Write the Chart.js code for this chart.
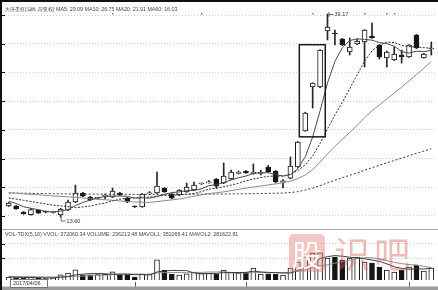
<!DOCTYPE html>
<html>
<head>
<meta charset="utf-8">
<script src="https://cdn.jsdelivr.net/npm/chart.js@4.4.1/dist/chart.umd.min.js"></script>
<style>
  html, body { margin: 0; padding: 0; background: #fff; }
  #wrap { position: relative; width: 438px; height: 290px; overflow: hidden; background: #fff;
          font-family: "Liberation Sans", Arial, sans-serif; }
  #price { position: absolute; left: 0; top: 0; }
  #vol { position: absolute; left: 0; top: 228px; }
  .hdr { position: absolute; white-space: pre; color: #454545; font-size: 5.4px; line-height: 7px; letter-spacing: -0.05px; }
  .wm { position: absolute; pointer-events: none; font-family: "Noto Sans CJK SC", sans-serif; line-height: 1; }
  #wm1 { left: 289px; top: 234px; width: 36px; height: 38px; border-radius: 5px;
         background: rgba(226, 128, 118, 0.45); color: #fff; font-size: 30px; text-align: center; line-height: 38px; }
  #wm2 { left: 334px; top: 234px; font-size: 36px; color: rgba(214, 96, 86, 0.42); }
  #wm3 { left: 374px; top: 234px; font-size: 36px; color: rgba(214, 96, 86, 0.42); }
</style>
</head>
<body>
<div id="wrap">
  <canvas id="price" width="438" height="228"></canvas>
  <canvas id="vol" width="438" height="62"></canvas>
  <div class="hdr" style="left:5px;top:6px;">大连圣亚(日线,前复权) MA5: 29.09 MA10: 26.75 MA20: 21.91 MA60: 16.03</div>
  <div class="hdr" style="left:5px;top:231px;">VOL-TDX(5,10) VVOL: 372060.34 VOLUME: 236213.48 MAVOL1: 351066.41 MAVOL2: 281622.81</div>
  <div class="wm" id="wm1">股</div>
  <div class="wm" id="wm2">识</div>
  <div class="wm" id="wm3">吧</div>
</div>
<script>
// Daily candles (前复权)
const opens = [14.99,14.99,14.23,13.90,14.48,14.27,14.18,13.85,14.48,15.49,
  16.62,16.12,15.95,16.20,16.12,16.62,15.99,14.92,14.86,16.52,
  16.62,17.25,16.50,16.37,16.75,17.00,17.76,17.90,18.39,17.88,
  18.39,19.10,19.39,19.10,19.10,19.90,19.39,18.00,18.50,19.90,
  24.43,29.97,29.97,37.03,36.77,36.02,34.38,35.39,35.64,36.40,
  35.26,33.63,33.37,34.00,33.75,36.52,33.63,34.76];
const highs = [15.45,15.06,14.30,14.68,14.56,14.36,14.34,14.70,15.74,17.63,
  16.72,16.20,16.10,16.50,17.25,16.70,16.05,15.00,16.55,16.80,
  19.27,17.30,16.55,17.05,17.88,18.01,17.90,18.20,18.45,20.40,
  19.50,19.40,19.45,20.28,19.50,20.10,19.45,18.30,21.16,23.10,
  26.80,30.50,34.70,39.17,37.15,36.10,36.14,36.02,37.20,38.03,
  35.30,34.50,35.01,34.63,35.30,36.60,34.20,35.64];
const lows = [14.92,14.55,13.94,13.82,14.05,14.12,14.10,13.60,14.40,15.40,
  16.15,15.65,15.85,15.87,16.05,16.30,15.40,14.80,14.80,16.45,
  16.55,16.70,15.90,16.30,16.70,16.95,17.70,17.85,17.25,17.80,
  18.30,19.00,19.10,19.00,18.90,19.20,17.90,17.25,18.40,19.85,
  24.40,27.33,29.90,35.89,35.26,35.20,34.00,35.30,32.49,36.10,
  33.50,32.49,33.30,32.99,33.70,34.80,33.60,34.00];
const closes = [15.36,14.61,13.98,14.55,14.10,14.20,14.25,14.61,15.49,16.62,
  16.24,15.74,15.99,16.30,16.87,16.37,15.49,14.86,16.50,16.62,
  17.50,16.75,15.99,17.00,17.38,17.63,17.80,18.01,17.50,18.76,
  19.27,19.15,19.14,19.15,19.20,19.27,18.01,18.15,20.00,23.05,
  26.70,30.48,34.63,37.53,36.65,35.26,35.01,35.77,37.15,36.14,
  33.75,34.38,34.13,33.75,35.26,34.88,34.13,34.88];

// Moving averages
const ma5 = [15.60,15.30,14.90,14.70,14.53,14.30,14.23,14.35,14.53,15.03,
  15.44,15.74,16.02,16.18,16.23,16.25,16.20,15.98,16.02,15.97,
  16.19,16.45,16.67,16.77,16.92,16.95,17.16,17.56,17.66,17.94,
  18.27,18.54,18.76,19.09,19.18,19.18,18.95,18.76,18.93,19.70,
  21.18,23.68,26.97,30.48,33.20,34.91,35.82,36.04,35.97,35.87,
  35.56,35.44,35.11,34.43,34.25,34.48,34.43,34.58];
const ma10 = [16.00,15.85,15.70,15.55,15.40,15.25,15.10,15.00,14.90,14.78,
  14.87,14.98,15.19,15.35,15.63,15.85,15.97,16.00,16.10,16.10,
  16.22,16.33,16.33,16.40,16.45,16.57,16.80,17.12,17.22,17.43,
  17.61,17.85,18.16,18.38,18.56,18.73,18.75,18.76,19.01,19.44,
  20.18,21.32,22.86,24.70,26.45,28.05,29.75,31.51,33.22,34.53,
  35.24,35.63,35.58,35.20,35.06,35.02,34.93,34.85];
const ma20 = [16.65,16.60,16.52,16.46,16.40,16.32,16.26,16.20,16.14,16.08,
  16.00,15.92,15.85,15.77,15.70,15.63,15.56,15.50,15.46,15.44,
  15.55,15.65,15.76,15.87,16.04,16.21,16.39,16.56,16.66,16.77,
  16.92,17.09,17.24,17.39,17.50,17.65,17.77,17.94,18.11,18.44,
  18.90,19.58,20.51,21.54,22.50,23.39,24.25,25.13,26.12,26.99,
  27.71,28.47,29.22,29.95,30.75,31.53,32.34,33.18];
const ma60 = [16.62,16.61,16.60,16.58,16.57,16.55,16.54,16.52,16.51,16.50,
  16.50,16.49,16.48,16.48,16.47,16.47,16.46,16.45,16.45,16.45,
  16.46,16.46,16.46,16.47,16.47,16.48,16.48,16.49,16.49,16.50,
  16.51,16.52,16.53,16.54,16.56,16.58,16.60,16.62,16.68,16.80,
  17.00,17.25,17.55,17.90,18.25,18.55,18.85,19.15,19.50,19.82,
  20.12,20.42,20.72,21.02,21.32,21.62,21.90,22.20];

// Volume and its averages
const volumes = [41600,28900,26800,43100,27500,20600,29300,70800,98400,141200,
  69700,72100,76500,78300,113600,69300,71800,41900,83600,86200,
  281500,139800,83200,70600,84900,111700,90600,92300,83800,140600,
  111900,97800,99100,168400,83700,85100,83300,70400,167900,251600,
  322800,377400,379100,307600,322300,279800,308500,321600,252400,237800,
  181700,140300,112400,139600,182500,209700,125800,168300];
const mavol1 = [42000,37800,35000,35000,33600,29400,29400,37800,49000,71400,
  81200,89600,91000,86800,81200,81200,81200,74200,75600,70000,
  112000,126000,134400,131600,131600,98000,88200,89600,92400,103600,
  103600,105000,106400,123200,112000,106400,103600,98000,98000,131600,
  179200,238000,299600,327600,341600,333200,319200,308000,296800,280000,
  260400,226800,184800,162400,151200,156800,154000,165200];
const mavol2 = [49000,47600,46200,44800,43400,42000,42000,43400,46200,52500,
  55300,59500,64400,67900,76300,81200,85400,82600,81200,75600,
  96600,103600,104300,103600,100800,105000,107100,112000,112000,117600,
  100800,96600,98000,107800,107800,105000,104300,102200,110600,121800,
  142800,170800,198800,212800,236600,256200,278600,303800,312200,310800,
  296800,273000,246400,229600,215600,208600,190400,175000];

const days = closes.map((_, i) => 'D' + (i + 1));
const priceGrid = [13.73, 17.345, 20.96, 24.575, 28.19, 31.805, 35.42, 39.035];
const volGrid = [308000, 504000];
const eventDays = [15, 27, 42, 49, 52, 53];   // 1-based trading days with info markers
const monthStarts = [18, 33, 55];             // 1-based, marked on the date axis
const highlight = { from: 41, to: 43, top: 35.3, bottom: 23.7 };
const firstDate = '2017/04/06';

const isUp = i => closes[i] >= opens[i];
const INK = '#1a1a1a';
const smallFont = '5.5px "Liberation Sans", Arial, sans-serif';

const priceDecor = {
  id: 'priceDecor',
  afterDatasetsDraw(chart) {
    const { ctx, scales: { x, y } } = chart;
    ctx.save();
    // highlight frame around the breakout candles
    const slot = x.getPixelForValue(1) - x.getPixelForValue(0);
    const l = x.getPixelForValue(highlight.from - 1) - slot * 0.8;
    const r = x.getPixelForValue(highlight.to - 1) + slot * 0.7;
    const t = y.getPixelForValue(highlight.top);
    const b = y.getPixelForValue(highlight.bottom);
    ctx.strokeStyle = INK;
    ctx.lineWidth = 1.5;
    ctx.strokeRect(l, t, r - l, b - t);

    // period high / low markers
    ctx.font = smallFont;
    ctx.fillStyle = '#333';
    ctx.strokeStyle = '#444';
    ctx.lineWidth = 0.8;
    ctx.textBaseline = 'middle';
    const hi = highs.indexOf(Math.max(...highs));
    const hx = x.getPixelForValue(hi), hy = y.getPixelForValue(highs[hi]);
    ctx.beginPath();
    ctx.moveTo(hx + 1, hy + 0.5); ctx.lineTo(hx + 6, hy + 0.5);
    ctx.moveTo(hx + 1.5, hy - 2); ctx.lineTo(hx + 1.5, hy + 3);
    ctx.stroke();
    ctx.fillText(highs[hi].toFixed(2), hx + 7, hy + 1);

    const lo = lows.indexOf(Math.min(...lows));
    const lx = x.getPixelForValue(lo), ly = y.getPixelForValue(lows[lo]);
    ctx.beginPath();
    ctx.moveTo(lx + 0.5, ly); ctx.lineTo(lx + 0.5, ly + 4); ctx.lineTo(lx + 5, ly + 4);
    ctx.stroke();
    ctx.fillText(lows[lo].toFixed(2), lx + 6, ly + 4);

    // info markers along the top
    ctx.fillStyle = '#777';
    eventDays.forEach(d => {
      const ex = x.getPixelForValue(d - 1);
      ctx.fillRect(ex - 0.5, 13, 1.5, 1.5);
    });
    ctx.restore();
  },
  afterDraw(chart) {
    const { ctx, scales: { y } } = chart;
    ctx.save();
    ctx.fillStyle = '#111';
    ctx.fillRect(0, 0, chart.width, 2);
    ctx.fillRect(0, 0, 2, chart.height);
    priceGrid.forEach(v => ctx.fillRect(2, Math.round(y.getPixelForValue(v)), 3, 1));
    ctx.restore();
  }
};

const volDecor = {
  id: 'volDecor',
  afterDraw(chart) {
    const { ctx, scales: { x, y } } = chart;
    const w = chart.width, h = chart.height;
    ctx.save();
    ctx.fillStyle = '#111';
    ctx.fillRect(0, 0, 2, h);
    volGrid.forEach(v => ctx.fillRect(2, Math.round(y.getPixelForValue(v)), 3, 1));
    // panel separator
    ctx.strokeStyle = '#a8a8a8';
    ctx.lineWidth = 1;
    ctx.beginPath(); ctx.moveTo(2, 1.5); ctx.lineTo(w, 1.5); ctx.stroke();
    // date axis strip
    ctx.fillStyle = '#9c9c9c';
    ctx.fillRect(2, h - 3.5, w - 2, 3.5);
    ctx.strokeStyle = '#555';
    ctx.beginPath();
    monthStarts.forEach(d => {
      const mx = Math.round(x.getPixelForValue(d - 1)) + 0.5;
      ctx.moveTo(mx, h - 8); ctx.lineTo(mx, h - 3.5);
    });
    ctx.stroke();
    // date box
    ctx.fillStyle = '#fff';
    ctx.strokeStyle = '#777';
    ctx.fillRect(10.5, h - 10.5, 37, 8);
    ctx.strokeRect(10.5, h - 10.5, 37, 8);
    ctx.fillStyle = '#333';
    ctx.font = smallFont;
    ctx.textBaseline = 'middle';
    ctx.fillText(firstDate, 13, h - 6.3);
    ctx.restore();
  }
};

const lineDs = (label, data, color, dash) => ({
  type: 'line', label, data, borderColor: color, borderWidth: 1,
  borderDash: dash || [], pointRadius: 0, fill: false, tension: 0, order: 1
});

new Chart(document.getElementById('price'), {
  type: 'bar',
  data: {
    labels: days,
    datasets: [
      lineDs('MA5', ma5, '#4a4a4a'),
      lineDs('MA10', ma10, '#2a2a2a', [2, 1.5]),
      lineDs('MA20', ma20, '#8a8a8a'),
      lineDs('MA60', ma60, '#3a3a3a', [2, 2]),
      {
        label: '影线', data: lows.map((l, i) => [l, highs[i]]),
        backgroundColor: '#262626', borderWidth: 0, barThickness: 1, grouped: false, order: 3
      },
      {
        label: 'K线', data: opens.map((o, i) => [o, closes[i]]),
        backgroundColor: c => isUp(c.dataIndex) ? '#fff' : '#141414',
        borderColor: INK, borderWidth: 1, borderSkipped: false,
        barThickness: 5, grouped: false, minBarLength: 1, order: 2
      }
    ]
  },
  options: {
    responsive: false, animation: false, events: [],
    layout: { autoPadding: false, padding: { left: 5, right: 3, top: 10, bottom: 2 } },
    plugins: { legend: { display: false }, tooltip: { enabled: false } },
    scales: {
      x: { display: false, offset: true },
      y: {
        min: 12.47, max: 39.67,
        ticks: { display: false },
        grid: { color: '#cdcdcd', lineWidth: 1, drawTicks: false },
        border: { display: false, dash: [1, 2] },
        afterBuildTicks: s => { s.ticks = priceGrid.map(v => ({ value: v })); },
        afterFit: s => { s.width = 0; }
      }
    }
  },
  plugins: [priceDecor]
});

new Chart(document.getElementById('vol'), {
  type: 'bar',
  data: {
    labels: days,
    datasets: [
      lineDs('MAVOL1', mavol1, '#3c3c3c'),
      lineDs('MAVOL2', mavol2, '#8c8c8c'),
      {
        label: 'VOLUME', data: volumes,
        backgroundColor: c => isUp(c.dataIndex) ? '#fff' : '#141414',
        borderColor: INK, borderWidth: 1, barThickness: 5, order: 2
      }
    ]
  },
  options: {
    responsive: false, animation: false, events: [],
    layout: { autoPadding: false, padding: { left: 5, right: 3, top: 9, bottom: 10 } },
    plugins: { legend: { display: false }, tooltip: { enabled: false } },
    scales: {
      x: { display: false, offset: true },
      y: {
        min: 0, max: 602000,
        ticks: { display: false },
        grid: { color: '#cdcdcd', lineWidth: 1, drawTicks: false },
        border: { display: false, dash: [1, 2] },
        afterBuildTicks: s => { s.ticks = volGrid.map(v => ({ value: v })); },
        afterFit: s => { s.width = 0; }
      }
    }
  },
  plugins: [volDecor]
});
</script>
</body>
</html>
